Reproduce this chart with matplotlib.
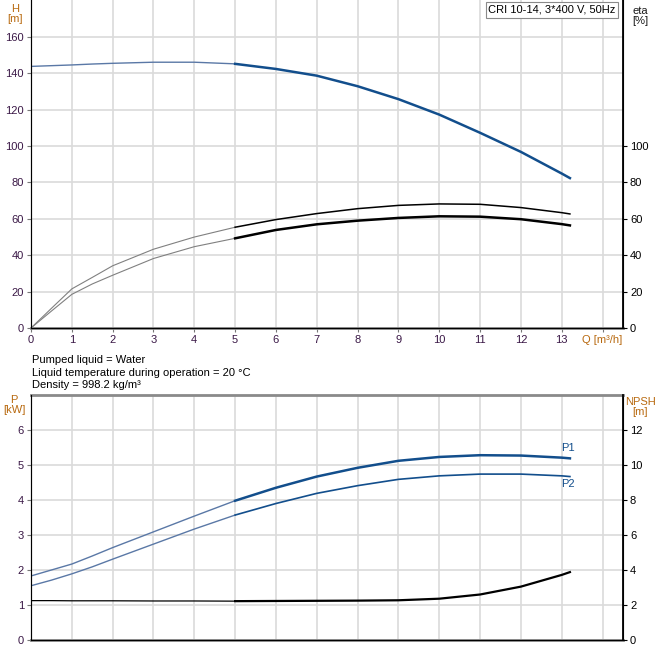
import matplotlib
matplotlib.use('Agg')
import matplotlib.pyplot as plt

# Pump curve readings (flow in m3/h).
q = [0, 0.5, 1, 1.5, 2, 3, 4, 5, 6, 7, 8, 9, 10, 11, 12, 13, 13.2]
head = [143.8, 144.2, 144.6, 145.1, 145.5, 146.1, 146.1, 145.2, 142.4, 138.7,
        132.9, 125.8, 117.3, 107.3, 96.8, 84.9, 82.4]
eta_pump = [0, 10.8, 21.5, 27.8, 34.2, 43.3, 50.0, 55.4, 59.6, 62.9, 65.6,
            67.4, 68.2, 68.0, 66.2, 63.4, 62.7]
eta_total = [0, 9.3, 18.5, 24.2, 29.0, 38.2, 44.7, 49.3, 53.9, 57.0, 59.0,
             60.5, 61.4, 61.2, 59.8, 57.1, 56.4]
p1 = [1.83, 2.0, 2.17, 2.4, 2.64, 3.09, 3.54, 3.98, 4.35, 4.67, 4.92, 5.12,
      5.23, 5.28, 5.27, 5.21, 5.19]
p2 = [1.55, 1.71, 1.89, 2.09, 2.31, 2.74, 3.17, 3.57, 3.90, 4.19, 4.41, 4.59,
      4.69, 4.74, 4.74, 4.69, 4.67]
npsh = [2.25, 2.25, 2.24, 2.24, 2.24, 2.23, 2.23, 2.22, 2.23, 2.24, 2.25, 2.27,
        2.36, 2.60, 3.05, 3.72, 3.88]

q_ticks = list(range(0, 15))
q_labels = [str(v) for v in range(0, 14)] + ['Q [m³/h]']
h_ticks = list(range(0, 161, 20))
eta_ticks = list(range(0, 101, 20))
p_ticks = list(range(0, 7))
npsh_ticks = list(range(0, 13, 2))

info = ['Pumped liquid = Water',
        'Liquid temperature during operation = 20 °C',
        'Density = 998.2 kg/m³']
title = 'CRI 10-14, 3*400 V, 50Hz'

plt.rcParams['font.family'] = ['Liberation Sans', 'DejaVu Sans']
plt.rcParams['font.size'] = 8

blue = '#124e8c'
thin_blue = '#5a78a6'
label_col = '#b8690f'
tick_col = '#3a1846'
grid_col = '#dadada'

# Split at the start of the operating range.
k = q.index(5)

fig = plt.figure(figsize=(6.62, 6.58), dpi=100)
W, Hp = 662, 658


def place(x0, y0, x1, y1):
    return [x0 / W, 1 - y1 / Hp, (x1 - x0) / W, (y1 - y0) / Hp]


def style(ax, right):
    ax.set_xlim(0, 14.5)
    ax.set_xticks(q_ticks)
    ax.grid(True, color=grid_col, lw=1.2)
    ax.set_axisbelow(True)
    ax.spines['left'].set_color('#555555')
    ax.spines['bottom'].set_color('#8a8a8a')
    ax.spines['bottom'].set_linewidth(2)
    ax.tick_params(axis='y', length=3, pad=2, colors='#777777',
                   labelcolor=tick_col)
    right.spines['right'].set_color('black')
    right.spines['right'].set_linewidth(1.3)
    right.tick_params(axis='y', length=3, pad=2, colors='black')


# ---- upper chart: head and efficiency
ax = fig.add_axes(place(31, 0, 623, 328))
ax_eta = ax.twinx()
ax.spines['top'].set_visible(False)
ax_eta.spines['top'].set_visible(False)
style(ax, ax_eta)
ax.set_ylim(0, 180.3)
ax_eta.set_ylim(0, 180.3)
ax.set_yticks(h_ticks)
ax_eta.set_yticks(eta_ticks)
ax.set_xticklabels(q_labels)
ax.tick_params(axis='x', length=3, pad=2, colors='#777777',
               labelcolor=tick_col)
ax.get_xticklabels()[-1].set_color(label_col)

ax.plot(q[:k + 1], eta_pump[:k + 1], color='#808080', lw=0.8)
ax.plot(q[:k + 1], eta_total[:k + 1], color='#808080', lw=0.8)
ax.plot(q[k:], eta_pump[k:], color='black', lw=1.1)
ax.plot(q[k:], eta_total[k:], color='black', lw=1.8)
ax.plot(q[:k + 1], head[:k + 1], color=thin_blue, lw=1.0)
ax.plot(q[k:], head[k:], color=blue, lw=1.8)

fig.text(15 / W, 1 - 14 / Hp, 'H\n[m]', ha='center', va='center',
         color=label_col, linespacing=1.1)
fig.text(640 / W, 1 - 16 / Hp, 'eta\n[%]', ha='center', va='center',
         color='#1a1a1a', linespacing=1.1)
fig.text(552 / W, 1 - 10 / Hp, title, ha='center', va='center',
         bbox=dict(boxstyle='square,pad=0.25', fc='white', ec='#8a8a8a',
                   lw=0.8))

for i, line in enumerate(info):
    fig.text(32 / W, 1 - (360 + 12.6 * i) / Hp, line, ha='left', va='center')

# ---- lower chart: power and NPSH
bx = fig.add_axes(place(31, 395, 623, 640))
bx_n = bx.twinx()
style(bx, bx_n)
bx.spines['top'].set_color('#8a8a8a')
bx.spines['top'].set_linewidth(2)
bx_n.spines['top'].set_visible(False)
bx.set_ylim(0, 7)
bx_n.set_ylim(0, 14)
bx.set_yticks(p_ticks)
bx_n.set_yticks(npsh_ticks)
bx.tick_params(axis='x', length=0, labelbottom=False)
bx_n.tick_params(axis='x', length=0, labelbottom=False)

bx.plot(q[:k + 1], p1[:k + 1], color=thin_blue, lw=1.0)
bx.plot(q[:k + 1], p2[:k + 1], color=thin_blue, lw=1.0)
bx.plot(q[k:], p1[k:], color=blue, lw=1.8)
bx.plot(q[k:], p2[k:], color=blue, lw=1.2)
bx_n.plot(q[:k + 1], npsh[:k + 1], color='black', lw=0.9)
bx_n.plot(q[k:], npsh[k:], color='black', lw=1.6)

bx.annotate('P1', (q[-1], p1[-1]), xytext=(-6, 4), textcoords='offset points',
            color=blue, ha='left', va='bottom')
bx.annotate('P2', (q[-1], p2[-1]), xytext=(-6, -2), textcoords='offset points',
            color=blue, ha='left', va='top')

fig.text(14 / W, 1 - 405 / Hp, 'P\n[kW]', ha='center', va='center',
         color=label_col, linespacing=1.1)
fig.text(640 / W, 1 - 407 / Hp, 'NPSH\n[m]', ha='center', va='center',
         color=label_col, linespacing=1.1)

plt.savefig('out.png', dpi=100)
